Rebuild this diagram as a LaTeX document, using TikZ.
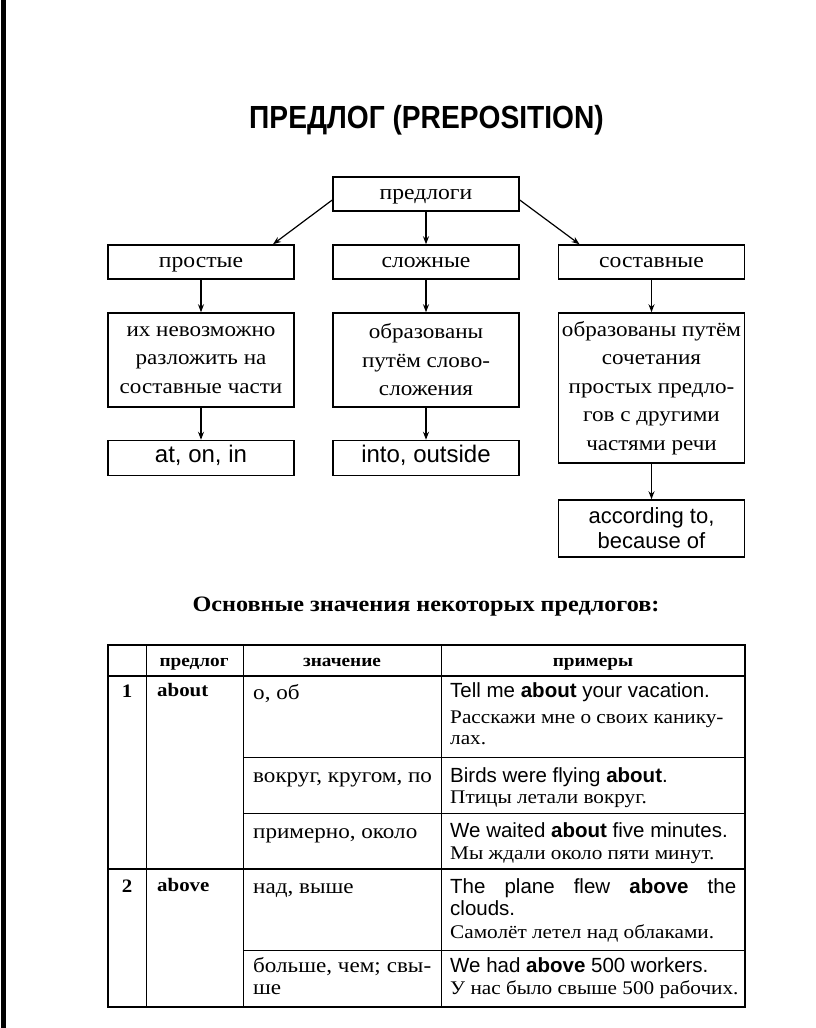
\documentclass[tikz,border=0pt]{standalone}
\usepackage{fontspec}
\setmainfont[FakeStretch=1.1]{Liberation Serif}
\newfontfamily\en{Liberation Sans}
\newfontfamily\tfont[FakeStretch=0.88]{Liberation Sans}
\usetikzlibrary{arrows.meta}
\begin{document}
\begin{tikzpicture}[x=1pt,y=-1pt,
  frame/.style={draw, line width=1.5pt, minimum width=186pt, inner sep=0pt},
  box/.style={frame, font=\fontsize{21.5}{24}\selectfont, text height=14pt, text depth=4pt},
  mbox/.style={frame, align=center, font=\fontsize{21}{28.5}\selectfont},
  enbox/.style={frame, font=\en\fontsize{24}{26}\selectfont, text height=13pt, text depth=5pt},
  enmbox/.style={frame, align=center, font=\en\fontsize{22}{25}\selectfont},
  arr/.style={-{Stealth[length=8pt,width=6pt]}, line width=1.2pt},
  thick line/.style={line width=1.6pt},
  thin line/.style={line width=1pt},
  hd/.style={anchor=base, inner sep=0pt, font=\bfseries\fontsize{17.5}{20}\selectfont},
  num/.style={anchor=base, inner sep=0pt, font=\bfseries\fontsize{19}{22}\selectfont},
  cellru/.style={anchor=base west, inner sep=0pt, font=\fontsize{21}{24}\selectfont},
  exen/.style={anchor=base west, inner sep=0pt, font=\en\fontsize{20.5}{23}\selectfont},
  exru/.style={anchor=base west, inner sep=0pt, font=\fontsize{19.3}{22}\selectfont}]
\useasboundingbox (0,0) rectangle (816,1028);
\fill[white] (0,0) rectangle (816,1028);
\fill[black] (1,0) rectangle (6,1028);

% title
\node[anchor=base, inner sep=0pt, font=\tfont\bfseries\fontsize{32}{36}\selectfont] (title) at (426.5,128) {ПРЕДЛОГ (PREPOSITION)};

% tree
\node[box, minimum height=34pt] (top) at (426,194) {предлоги};
\node[box, minimum height=34pt] (p1) at (201,262) {простые};
\node[box, minimum height=34pt] (s1) at (426,262) {сложные};
\node[box, minimum height=34pt] (c1) at (651.5,262) {составные};
\node[mbox, minimum height=94pt] (p2) at (201,360) {их невозможно\\разложить на\\составные части};
\node[mbox, minimum height=94pt] (s2) at (426,360) {образованы\\путём слово-\\сложения};
\node[mbox, minimum height=150pt] (c2) at (651.5,388) {образованы путём\\сочетания\\простых предло-\\гов с другими\\частями речи};
\node[enbox, minimum height=35pt] (p3) at (201,458) {at, on, in};
\node[enbox, minimum height=35pt] (s3) at (426,458) {into, outside};
\node[enmbox, minimum height=57pt] (c3) at (651.5,528.5) {according to,\\because of};

\draw[arr] ([yshift=-6pt]top.west) -- ([xshift=72pt]p1.north);
\draw[arr] (top.south) -- (s1.north);
\draw[arr] ([yshift=-6pt]top.east) -- ([xshift=-72pt]c1.north);
\draw[arr] (p1.south) -- (p2.north);
\draw[arr] (s1.south) -- (s2.north);
\draw[arr] (c1.south) -- (c2.north);
\draw[arr] (p2.south) -- (p3.north);
\draw[arr] (s2.south) -- (s3.north);
\draw[arr] (c2.south) -- (c3.north);

% subtitle
\node[anchor=base, inner sep=0pt, font=\bfseries\fontsize{22}{26}\selectfont] (sub) at (426,611) {Основные значения некоторых предлогов:};

% table grid
\draw[thin line] (146,645) -- (146,1007);
\draw[thin line] (243,645) -- (243,1007);
\draw[thin line] (441,645) -- (441,1007);
\draw[thin line] (243,757) -- (745,757);
\draw[thin line] (243,813) -- (745,813);
\draw[thin line] (243,950) -- (745,950);
\draw[thick line] (108,676) -- (745,676);
\draw[thick line] (108,869) -- (745,869);
\draw[thick line] (108,645) rectangle (745,1007);

% header
\node[hd] (h2) at (194,666) {предлог};
\node[hd] (h3) at (342,666) {значение};
\node[hd] (h4) at (593,666) {примеры};

% row 1
\node[num] (n1) at (127,697) {1};
\node[num, anchor=base west] (w1) at (157,696) {about};
\node[cellru] (m1a) at (253,699) {о, об};
\node[exen] (e1a) at (450,697) {Tell me \textbf{about} your vacation.};
\node[exru] (r1a) at (450,723) {Расскажи мне о своих канику-};
\node[exru] (r1a2) at (450,744) {лах.};
\node[cellru] (m1b) at (253,782) {вокруг, кругом, по};
\node[exen] (e1b) at (450,782) {Birds were flying \textbf{about}.};
\node[exru] (r1b) at (450,803) {Птицы летали вокруг.};
\node[cellru] (m1c) at (253,838) {примерно, около};
\node[exen] (e1c) at (450,837) {We waited \textbf{about} five minutes.};
\node[exru] (r1c) at (450,859) {Мы ждали около пяти минут.};

% row 2
\node[num] (n2) at (127,892) {2};
\node[num, anchor=base west] (w2) at (157,891) {above};
\node[cellru] (m2a) at (253,893) {над, выше};
\node[exen] (e2a) at (450,893) {\makebox[286pt][s]{The plane flew \textbf{above} the}};
\node[exen] (e2a2) at (450,915) {clouds.};
\node[exru] (r2a) at (450,938) {Самолёт летел над облаками.};
\node[cellru] (m2b) at (253,972) {\makebox[178pt][s]{больше, чем; свы-}};
\node[cellru] (m2b2) at (253,994) {ше};
\node[exen] (e2b) at (450,972) {We had \textbf{above} 500 workers.};
\node[exru] (r2b) at (450,994) {У нас было свыше 500 рабочих.};
\end{tikzpicture}
\end{document}
